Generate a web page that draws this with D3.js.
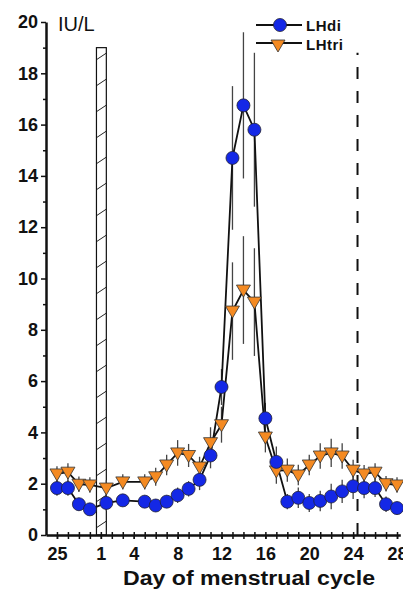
<!DOCTYPE html>
<html>
<head>
<meta charset="utf-8">
<script src="https://cdn.jsdelivr.net/npm/d3@7"></script>
<style>
  body { margin: 0; background: #fff; }
  text { font-family: Arial, "Liberation Sans", sans-serif; }
</style>
</head>
<body>
<div id="chart"></div>
<script>
// days: previous cycle 25..28 are drawn as -3..0
let days = [-3, -2, -1, 0, 1.5, 3, 5, 6, 7, 8, 9, 10, 11, 12, 13, 14, 15, 16, 17, 18, 19, 20, 21, 22, 23, 24, 25, 26, 27, 28];
let lhdi = [1.83, 1.83, 1.2, 1.0, 1.25, 1.35, 1.3, 1.15, 1.3, 1.55, 1.8, 2.15, 3.1, 5.77, 14.7, 16.75, 15.8, 4.55, 2.85, 1.3, 1.45, 1.25, 1.33, 1.5, 1.7, 1.9, 1.83, 1.83, 1.2, 1.05];
let lhdiErr = [0.3, 0.3, 0.25, 0.25, 0.3, 0.25, 0.25, 0.25, 0.25, 0.3, 0.3, 0.4, 0.5, 0.7, 2.8, 2.85, 3.0, 0.6, 0.6, 0.3, 0.4, 0.35, 0.4, 0.5, 0.45, 0.5, 0.4, 0.35, 0.3, 0.25];
let lhtri = [2.38, 2.45, 1.98, 1.95, 1.83, 2.07, 2.07, 2.27, 2.73, 3.2, 3.1, 2.65, 3.6, 4.3, 8.73, 9.55, 9.08, 3.82, 2.5, 2.53, 2.34, 2.73, 3.08, 3.2, 3.08, 2.53, 2.38, 2.45, 2.0, 1.95];
let lhtriErr = [0.3, 0.35, 0.3, 0.3, 0.3, 0.3, 0.3, 0.35, 0.4, 0.5, 0.45, 0.4, 0.6, 0.7, 1.9, 2.1, 2.1, 0.6, 0.5, 0.45, 0.4, 0.4, 0.5, 0.55, 0.5, 0.4, 0.35, 0.35, 0.3, 0.3];

let xTickVals = [-3, 1, 4, 8, 12, 16, 20, 24, 28];
let xTickLabels = ["25", "1", "4", "8", "12", "16", "20", "24", "28"];
let yTickVals = [0, 2, 4, 6, 8, 10, 12, 14, 16, 18, 20];

let menses = [0.6, 1.5, 19];   // hatched bar: from day, to day, height
let ovulEnd = [24.4, 18.8];    // dashed line: day, height

let svg = d3.select("#chart")
    .append("svg")
    .attr("width", 403)
    .attr("height", 592);

let x = d3.scaleLinear()
    .domain([-4, 28.3])
    .range([46, 400.3]);

let y = d3.scaleLinear()
    .domain([0, 20])
    .range([535, 22]);

// hatch pattern
let pat = svg.append("defs").append("pattern")
    .attr("id", "hatch")
    .attr("patternUnits", "userSpaceOnUse")
    .attr("width", 12)
    .attr("height", 26);
pat.append("path")
    .attr("d", "M0,8 L12,0")
    .attr("stroke", "#222")
    .attr("stroke-width", 1);

svg.append("rect")
    .attr("x", x(menses[0]))
    .attr("y", y(menses[2]))
    .attr("width", x(menses[1]) - x(menses[0]))
    .attr("height", y(0) - y(menses[2]))
    .attr("fill", "url(#hatch)")
    .attr("stroke", "#111")
    .attr("stroke-width", 1.2);

// dashed line
svg.append("line")
    .attr("x1", x(ovulEnd[0]))
    .attr("x2", x(ovulEnd[0]))
    .attr("y1", y(0))
    .attr("y2", y(ovulEnd[1]))
    .attr("stroke", "#111")
    .attr("stroke-width", 2)
    .attr("stroke-dasharray", "12,12");

// axes
let yAxis = svg.append("g")
    .attr("transform", "translate(46,0)")
    .call(d3.axisLeft(y).tickValues(yTickVals).tickSize(5).tickPadding(3).tickSizeOuter(0));
svg.append("g")
    .attr("transform", "translate(46,0)")
    .call(d3.axisLeft(y).tickValues(d3.range(1, 20, 2)).tickSize(3).tickFormat("").tickSizeOuter(0))
    .select(".domain").remove();
yAxis.selectAll("text")
    .attr("font-size", 18)
    .attr("font-weight", "bold")
    .attr("fill", "#111");

let xAxis = svg.append("g")
    .attr("transform", "translate(0,535)")
    .call(d3.axisBottom(x).tickValues(xTickVals).tickSize(4).tickPadding(8).tickSizeOuter(0)
        .tickFormat((d, i) => xTickLabels[i]));
let xMinor = svg.append("g")
    .attr("transform", "translate(0,535)")
    .call(d3.axisBottom(x).tickValues(d3.range(-3, 29)).tickSize(4).tickFormat("").tickSizeOuter(0));
xMinor.select(".domain").remove();
xMinor.selectAll(".tick line").attr("y1", -3);
xAxis.selectAll("text")
    .attr("font-size", 18)
    .attr("font-weight", "bold")
    .attr("fill", "#111");
svg.selectAll(".domain").attr("stroke-width", 2.5).attr("stroke", "#111");
svg.selectAll(".tick line").attr("stroke-width", 1.5).attr("stroke", "#111");

svg.append("text")
    .attr("x", 58)
    .attr("y", 31)
    .attr("font-size", 20)
    .attr("fill", "#111")
    .text("IU/L");

svg.append("text")
    .attr("x", 123)
    .attr("y", 585)
    .attr("font-size", 20)
    .attr("font-weight", "bold")
    .attr("fill", "#111")
    .attr("textLength", 252)
    .attr("lengthAdjust", "spacingAndGlyphs")
    .text("Day of menstrual cycle");

let blue = "#1428e6";
let orange = "#f48a22";
let triPath = "M-7,-5 L7,-5 L0,7 Z";

let series = [
    {vals: lhdi, err: lhdiErr},
    {vals: lhtri, err: lhtriErr}
];

// error bars
series.forEach(s => {
    svg.append("g").selectAll("line")
        .data(days)
        .enter()
        .append("line")
        .attr("x1", d => x(d))
        .attr("x2", d => x(d))
        .attr("y1", (d, i) => y(s.vals[i] - s.err[i]))
        .attr("y2", (d, i) => y(s.vals[i] + s.err[i]))
        .attr("stroke", "#444")
        .attr("stroke-width", 1.3);
});

let line = d3.line()
    .x(d => x(d[0]))
    .y(d => y(d[1]));

series.forEach(s => {
    svg.append("path")
        .datum(days.map((d, i) => [d, s.vals[i]]))
        .attr("d", line)
        .attr("fill", "none")
        .attr("stroke", "#111")
        .attr("stroke-width", 1.8);
});

// markers
svg.append("g").selectAll("path")
    .data(days)
    .enter()
    .append("path")
    .attr("d", triPath)
    .attr("transform", (d, i) => "translate(" + x(d) + "," + y(lhtri[i]) + ")")
    .attr("fill", orange)
    .attr("stroke", "#333")
    .attr("stroke-width", 0.8);

svg.append("g").selectAll("circle")
    .data(days)
    .enter()
    .append("circle")
    .attr("cx", d => x(d))
    .attr("cy", (d, i) => y(lhdi[i]))
    .attr("r", 6.5)
    .attr("fill", blue)
    .attr("stroke", "#223")
    .attr("stroke-width", 0.8);

// legend
let legend = svg.append("g");
legend.append("line").attr("x1", 256).attr("x2", 302).attr("y1", 25).attr("y2", 25)
    .attr("stroke", "#111").attr("stroke-width", 2);
legend.append("circle").attr("cx", 280).attr("cy", 25).attr("r", 6.5)
    .attr("fill", blue).attr("stroke", "#223").attr("stroke-width", 0.8);
legend.append("text").attr("x", 306).attr("y", 31)
    .attr("font-size", 15).attr("font-weight", "bold").attr("letter-spacing", 0.5).attr("fill", "#111")
    .text("LHdi");
legend.append("line").attr("x1", 256).attr("x2", 302).attr("y1", 43).attr("y2", 43)
    .attr("stroke", "#111").attr("stroke-width", 2);
legend.append("path").attr("d", triPath).attr("transform", "translate(278,45)")
    .attr("fill", orange).attr("stroke", "#333").attr("stroke-width", 0.8);
legend.append("text").attr("x", 306).attr("y", 50)
    .attr("font-size", 15).attr("font-weight", "bold").attr("letter-spacing", 0.5).attr("fill", "#111")
    .text("LHtri");
</script>
</body>
</html>
